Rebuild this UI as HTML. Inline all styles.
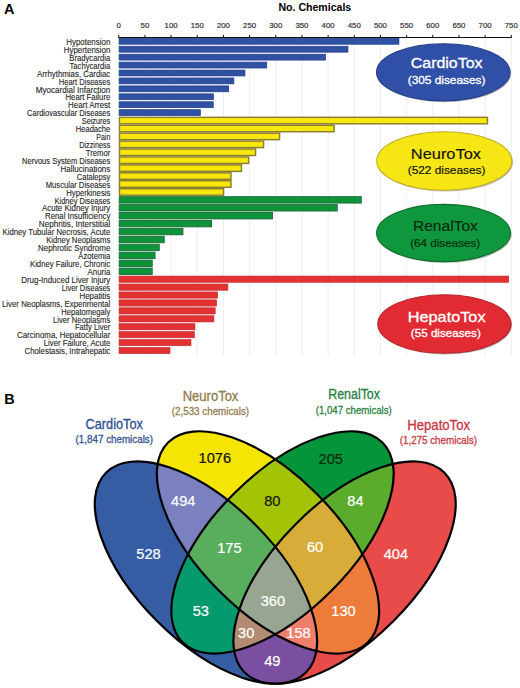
<!DOCTYPE html>
<html><head><meta charset="utf-8"><title>Figure</title>
<style>html,body{margin:0;padding:0;background:#fff;width:520px;height:688px;overflow:hidden;position:relative;font-family:"Liberation Sans", sans-serif;}</style>
</head><body>
<svg width="520" height="688" viewBox="0 0 520 688" style="position:absolute;left:0;top:0">
<text x="4" y="13.8" font-family='"Liberation Sans", sans-serif' font-weight="bold" font-size="14.4" fill="#000">A</text>
<text x="4.3" y="403.8" font-family='"Liberation Sans", sans-serif' font-weight="bold" font-size="14.4" fill="#000">B</text>
<text x="278.5" y="10.8" font-family='"Liberation Sans", sans-serif' font-weight="bold" font-size="11" fill="#000" textLength="72.7" lengthAdjust="spacingAndGlyphs">No. Chemicals</text>
<line x1="144.92" y1="37.45" x2="144.92" y2="356" stroke="#ececec" stroke-width="0.9"/>
<line x1="171.09" y1="37.45" x2="171.09" y2="356" stroke="#ececec" stroke-width="0.9"/>
<line x1="197.26" y1="37.45" x2="197.26" y2="356" stroke="#ececec" stroke-width="0.9"/>
<line x1="223.43" y1="37.45" x2="223.43" y2="356" stroke="#ececec" stroke-width="0.9"/>
<line x1="249.60" y1="37.45" x2="249.60" y2="356" stroke="#ececec" stroke-width="0.9"/>
<line x1="275.77" y1="37.45" x2="275.77" y2="356" stroke="#ececec" stroke-width="0.9"/>
<line x1="301.94" y1="37.45" x2="301.94" y2="356" stroke="#ececec" stroke-width="0.9"/>
<line x1="328.11" y1="37.45" x2="328.11" y2="356" stroke="#ececec" stroke-width="0.9"/>
<line x1="354.28" y1="37.45" x2="354.28" y2="356" stroke="#ececec" stroke-width="0.9"/>
<line x1="380.45" y1="37.45" x2="380.45" y2="356" stroke="#ececec" stroke-width="0.9"/>
<line x1="406.62" y1="37.45" x2="406.62" y2="356" stroke="#ececec" stroke-width="0.9"/>
<line x1="432.79" y1="37.45" x2="432.79" y2="356" stroke="#ececec" stroke-width="0.9"/>
<line x1="458.96" y1="37.45" x2="458.96" y2="356" stroke="#ececec" stroke-width="0.9"/>
<line x1="485.13" y1="37.45" x2="485.13" y2="356" stroke="#ececec" stroke-width="0.9"/>
<line x1="511.30" y1="37.45" x2="511.30" y2="356" stroke="#ececec" stroke-width="0.9"/>
<line x1="118.75" y1="34.85" x2="118.75" y2="37.45" stroke="#111" stroke-width="1"/>
<text x="118.75" y="28.1" text-anchor="middle" font-family='"Liberation Sans", sans-serif' font-size="7.8" fill="#333" stroke="#333" stroke-width="0.2">0</text>
<line x1="144.92" y1="34.85" x2="144.92" y2="37.45" stroke="#111" stroke-width="1"/>
<text x="144.92" y="28.1" text-anchor="middle" font-family='"Liberation Sans", sans-serif' font-size="7.8" fill="#333" stroke="#333" stroke-width="0.2">50</text>
<line x1="171.09" y1="34.85" x2="171.09" y2="37.45" stroke="#111" stroke-width="1"/>
<text x="171.09" y="28.1" text-anchor="middle" font-family='"Liberation Sans", sans-serif' font-size="7.8" fill="#333" stroke="#333" stroke-width="0.2">100</text>
<line x1="197.26" y1="34.85" x2="197.26" y2="37.45" stroke="#111" stroke-width="1"/>
<text x="197.26" y="28.1" text-anchor="middle" font-family='"Liberation Sans", sans-serif' font-size="7.8" fill="#333" stroke="#333" stroke-width="0.2">150</text>
<line x1="223.43" y1="34.85" x2="223.43" y2="37.45" stroke="#111" stroke-width="1"/>
<text x="223.43" y="28.1" text-anchor="middle" font-family='"Liberation Sans", sans-serif' font-size="7.8" fill="#333" stroke="#333" stroke-width="0.2">200</text>
<line x1="249.60" y1="34.85" x2="249.60" y2="37.45" stroke="#111" stroke-width="1"/>
<text x="249.60" y="28.1" text-anchor="middle" font-family='"Liberation Sans", sans-serif' font-size="7.8" fill="#333" stroke="#333" stroke-width="0.2">250</text>
<line x1="275.77" y1="34.85" x2="275.77" y2="37.45" stroke="#111" stroke-width="1"/>
<text x="275.77" y="28.1" text-anchor="middle" font-family='"Liberation Sans", sans-serif' font-size="7.8" fill="#333" stroke="#333" stroke-width="0.2">300</text>
<line x1="301.94" y1="34.85" x2="301.94" y2="37.45" stroke="#111" stroke-width="1"/>
<text x="301.94" y="28.1" text-anchor="middle" font-family='"Liberation Sans", sans-serif' font-size="7.8" fill="#333" stroke="#333" stroke-width="0.2">350</text>
<line x1="328.11" y1="34.85" x2="328.11" y2="37.45" stroke="#111" stroke-width="1"/>
<text x="328.11" y="28.1" text-anchor="middle" font-family='"Liberation Sans", sans-serif' font-size="7.8" fill="#333" stroke="#333" stroke-width="0.2">400</text>
<line x1="354.28" y1="34.85" x2="354.28" y2="37.45" stroke="#111" stroke-width="1"/>
<text x="354.28" y="28.1" text-anchor="middle" font-family='"Liberation Sans", sans-serif' font-size="7.8" fill="#333" stroke="#333" stroke-width="0.2">450</text>
<line x1="380.45" y1="34.85" x2="380.45" y2="37.45" stroke="#111" stroke-width="1"/>
<text x="380.45" y="28.1" text-anchor="middle" font-family='"Liberation Sans", sans-serif' font-size="7.8" fill="#333" stroke="#333" stroke-width="0.2">500</text>
<line x1="406.62" y1="34.85" x2="406.62" y2="37.45" stroke="#111" stroke-width="1"/>
<text x="406.62" y="28.1" text-anchor="middle" font-family='"Liberation Sans", sans-serif' font-size="7.8" fill="#333" stroke="#333" stroke-width="0.2">550</text>
<line x1="432.79" y1="34.85" x2="432.79" y2="37.45" stroke="#111" stroke-width="1"/>
<text x="432.79" y="28.1" text-anchor="middle" font-family='"Liberation Sans", sans-serif' font-size="7.8" fill="#333" stroke="#333" stroke-width="0.2">600</text>
<line x1="458.96" y1="34.85" x2="458.96" y2="37.45" stroke="#111" stroke-width="1"/>
<text x="458.96" y="28.1" text-anchor="middle" font-family='"Liberation Sans", sans-serif' font-size="7.8" fill="#333" stroke="#333" stroke-width="0.2">650</text>
<line x1="485.13" y1="34.85" x2="485.13" y2="37.45" stroke="#111" stroke-width="1"/>
<text x="485.13" y="28.1" text-anchor="middle" font-family='"Liberation Sans", sans-serif' font-size="7.8" fill="#333" stroke="#333" stroke-width="0.2">700</text>
<line x1="511.30" y1="34.85" x2="511.30" y2="37.45" stroke="#111" stroke-width="1"/>
<text x="511.30" y="28.1" text-anchor="middle" font-family='"Liberation Sans", sans-serif' font-size="7.8" fill="#333" stroke="#333" stroke-width="0.2">750</text>
<rect x="119.10" y="38.33" width="279.85" height="5.90" fill="#2f52a2" stroke="#233a8c" stroke-width="0.7"/>
<text x="66.25" y="44.95" font-family='"Liberation Sans", sans-serif' font-size="8.7" fill="#262626" stroke="#262626" stroke-width="0.12" textLength="44.05" lengthAdjust="spacingAndGlyphs">Hypotension</text>
<rect x="119.10" y="46.26" width="228.85" height="5.90" fill="#2f52a2" stroke="#233a8c" stroke-width="0.7"/>
<text x="63.75" y="52.88" font-family='"Liberation Sans", sans-serif' font-size="8.7" fill="#262626" stroke="#262626" stroke-width="0.12" textLength="46.55" lengthAdjust="spacingAndGlyphs">Hypertension</text>
<rect x="119.10" y="54.19" width="206.45" height="5.90" fill="#2f52a2" stroke="#233a8c" stroke-width="0.7"/>
<text x="69.25" y="60.81" font-family='"Liberation Sans", sans-serif' font-size="8.7" fill="#262626" stroke="#262626" stroke-width="0.12" textLength="41.05" lengthAdjust="spacingAndGlyphs">Bradycardia</text>
<rect x="119.10" y="62.12" width="147.65" height="5.90" fill="#2f52a2" stroke="#233a8c" stroke-width="0.7"/>
<text x="69.50" y="68.74" font-family='"Liberation Sans", sans-serif' font-size="8.7" fill="#262626" stroke="#262626" stroke-width="0.12" textLength="40.80" lengthAdjust="spacingAndGlyphs">Tachycardia</text>
<rect x="119.10" y="70.04" width="125.85" height="5.90" fill="#2f52a2" stroke="#233a8c" stroke-width="0.7"/>
<text x="37.00" y="76.67" font-family='"Liberation Sans", sans-serif' font-size="8.7" fill="#262626" stroke="#262626" stroke-width="0.12" textLength="73.30" lengthAdjust="spacingAndGlyphs">Arrhythmias, Cardiac</text>
<rect x="119.10" y="77.97" width="114.75" height="5.90" fill="#2f52a2" stroke="#233a8c" stroke-width="0.7"/>
<text x="58.75" y="84.60" font-family='"Liberation Sans", sans-serif' font-size="8.7" fill="#262626" stroke="#262626" stroke-width="0.12" textLength="51.55" lengthAdjust="spacingAndGlyphs">Heart Diseases</text>
<rect x="119.10" y="85.90" width="109.55" height="5.90" fill="#2f52a2" stroke="#233a8c" stroke-width="0.7"/>
<text x="35.75" y="92.53" font-family='"Liberation Sans", sans-serif' font-size="8.7" fill="#262626" stroke="#262626" stroke-width="0.12" textLength="74.55" lengthAdjust="spacingAndGlyphs">Myocardial Infarction</text>
<rect x="119.10" y="93.83" width="94.45" height="5.90" fill="#2f52a2" stroke="#233a8c" stroke-width="0.7"/>
<text x="65.50" y="100.46" font-family='"Liberation Sans", sans-serif' font-size="8.7" fill="#262626" stroke="#262626" stroke-width="0.12" textLength="44.80" lengthAdjust="spacingAndGlyphs">Heart Failure</text>
<rect x="119.10" y="101.76" width="94.15" height="5.90" fill="#2f52a2" stroke="#233a8c" stroke-width="0.7"/>
<text x="68.00" y="108.39" font-family='"Liberation Sans", sans-serif' font-size="8.7" fill="#262626" stroke="#262626" stroke-width="0.12" textLength="42.30" lengthAdjust="spacingAndGlyphs">Heart Arrest</text>
<rect x="119.10" y="109.69" width="81.25" height="5.90" fill="#2f52a2" stroke="#233a8c" stroke-width="0.7"/>
<text x="27.00" y="116.32" font-family='"Liberation Sans", sans-serif' font-size="8.7" fill="#262626" stroke="#262626" stroke-width="0.12" textLength="83.30" lengthAdjust="spacingAndGlyphs">Cardiovascular Diseases</text>
<rect x="119.47" y="117.33" width="368.00" height="6.48" fill="#f7e80c" stroke="#8a7e30" stroke-width="1.45"/>
<text x="81.75" y="124.25" font-family='"Liberation Sans", sans-serif' font-size="8.7" fill="#262626" stroke="#262626" stroke-width="0.12" textLength="28.55" lengthAdjust="spacingAndGlyphs">Seizures</text>
<rect x="119.47" y="125.26" width="214.60" height="6.48" fill="#f7e80c" stroke="#8a7e30" stroke-width="1.45"/>
<text x="75.75" y="132.18" font-family='"Liberation Sans", sans-serif' font-size="8.7" fill="#262626" stroke="#262626" stroke-width="0.12" textLength="34.55" lengthAdjust="spacingAndGlyphs">Headache</text>
<rect x="119.47" y="133.19" width="160.10" height="6.48" fill="#f7e80c" stroke="#8a7e30" stroke-width="1.45"/>
<text x="96.25" y="140.11" font-family='"Liberation Sans", sans-serif' font-size="8.7" fill="#262626" stroke="#262626" stroke-width="0.12" textLength="14.05" lengthAdjust="spacingAndGlyphs">Pain</text>
<rect x="119.47" y="141.12" width="144.10" height="6.48" fill="#f7e80c" stroke="#8a7e30" stroke-width="1.45"/>
<text x="79.25" y="148.04" font-family='"Liberation Sans", sans-serif' font-size="8.7" fill="#262626" stroke="#262626" stroke-width="0.12" textLength="31.05" lengthAdjust="spacingAndGlyphs">Dizziness</text>
<rect x="119.47" y="149.05" width="136.10" height="6.48" fill="#f7e80c" stroke="#8a7e30" stroke-width="1.45"/>
<text x="85.75" y="155.97" font-family='"Liberation Sans", sans-serif' font-size="8.7" fill="#262626" stroke="#262626" stroke-width="0.12" textLength="24.55" lengthAdjust="spacingAndGlyphs">Tremor</text>
<rect x="119.47" y="156.98" width="129.10" height="6.48" fill="#f7e80c" stroke="#8a7e30" stroke-width="1.45"/>
<text x="22.00" y="163.90" font-family='"Liberation Sans", sans-serif' font-size="8.7" fill="#262626" stroke="#262626" stroke-width="0.12" textLength="88.30" lengthAdjust="spacingAndGlyphs">Nervous System Diseases</text>
<rect x="119.47" y="164.91" width="122.00" height="6.48" fill="#f7e80c" stroke="#8a7e30" stroke-width="1.45"/>
<text x="60.50" y="171.83" font-family='"Liberation Sans", sans-serif' font-size="8.7" fill="#262626" stroke="#262626" stroke-width="0.12" textLength="49.80" lengthAdjust="spacingAndGlyphs">Hallucinations</text>
<rect x="119.47" y="172.84" width="111.50" height="6.48" fill="#f7e80c" stroke="#8a7e30" stroke-width="1.45"/>
<text x="76.75" y="179.76" font-family='"Liberation Sans", sans-serif' font-size="8.7" fill="#262626" stroke="#262626" stroke-width="0.12" textLength="33.55" lengthAdjust="spacingAndGlyphs">Catalepsy</text>
<rect x="119.47" y="180.78" width="111.50" height="6.48" fill="#f7e80c" stroke="#8a7e30" stroke-width="1.45"/>
<text x="45.75" y="187.69" font-family='"Liberation Sans", sans-serif' font-size="8.7" fill="#262626" stroke="#262626" stroke-width="0.12" textLength="64.55" lengthAdjust="spacingAndGlyphs">Muscular Diseases</text>
<rect x="119.47" y="188.70" width="104.10" height="6.48" fill="#f7e80c" stroke="#8a7e30" stroke-width="1.45"/>
<text x="66.25" y="195.62" font-family='"Liberation Sans", sans-serif' font-size="8.7" fill="#262626" stroke="#262626" stroke-width="0.12" textLength="44.05" lengthAdjust="spacingAndGlyphs">Hyperkinesis</text>
<rect x="119.20" y="196.67" width="242.05" height="6.40" fill="#0e9438" stroke="#1a6a38" stroke-width="0.9"/>
<text x="54.50" y="203.55" font-family='"Liberation Sans", sans-serif' font-size="8.7" fill="#262626" stroke="#262626" stroke-width="0.12" textLength="55.80" lengthAdjust="spacingAndGlyphs">Kidney Diseases</text>
<rect x="119.20" y="204.60" width="218.05" height="6.40" fill="#0e9438" stroke="#1a6a38" stroke-width="0.9"/>
<text x="42.00" y="211.48" font-family='"Liberation Sans", sans-serif' font-size="8.7" fill="#262626" stroke="#262626" stroke-width="0.12" textLength="68.30" lengthAdjust="spacingAndGlyphs">Acute Kidney Injury</text>
<rect x="119.20" y="212.53" width="153.35" height="6.40" fill="#0e9438" stroke="#1a6a38" stroke-width="0.9"/>
<text x="45.00" y="219.41" font-family='"Liberation Sans", sans-serif' font-size="8.7" fill="#262626" stroke="#262626" stroke-width="0.12" textLength="65.30" lengthAdjust="spacingAndGlyphs">Renal Insufficiency</text>
<rect x="119.20" y="220.46" width="92.35" height="6.40" fill="#0e9438" stroke="#1a6a38" stroke-width="0.9"/>
<text x="38.75" y="227.34" font-family='"Liberation Sans", sans-serif' font-size="8.7" fill="#262626" stroke="#262626" stroke-width="0.12" textLength="71.55" lengthAdjust="spacingAndGlyphs">Nephritis, Interstitial</text>
<rect x="119.20" y="228.39" width="63.75" height="6.40" fill="#0e9438" stroke="#1a6a38" stroke-width="0.9"/>
<text x="2.50" y="235.27" font-family='"Liberation Sans", sans-serif' font-size="8.7" fill="#262626" stroke="#262626" stroke-width="0.12" textLength="107.80" lengthAdjust="spacingAndGlyphs">Kidney Tubular Necrosis, Acute</text>
<rect x="119.20" y="236.32" width="45.05" height="6.40" fill="#0e9438" stroke="#1a6a38" stroke-width="0.9"/>
<text x="46.25" y="243.20" font-family='"Liberation Sans", sans-serif' font-size="8.7" fill="#262626" stroke="#262626" stroke-width="0.12" textLength="64.05" lengthAdjust="spacingAndGlyphs">Kidney Neoplasms</text>
<rect x="119.20" y="244.25" width="40.05" height="6.40" fill="#0e9438" stroke="#1a6a38" stroke-width="0.9"/>
<text x="38.00" y="251.13" font-family='"Liberation Sans", sans-serif' font-size="8.7" fill="#262626" stroke="#262626" stroke-width="0.12" textLength="72.30" lengthAdjust="spacingAndGlyphs">Nephrotic Syndrome</text>
<rect x="119.20" y="252.18" width="35.85" height="6.40" fill="#0e9438" stroke="#1a6a38" stroke-width="0.9"/>
<text x="78.25" y="259.06" font-family='"Liberation Sans", sans-serif' font-size="8.7" fill="#262626" stroke="#262626" stroke-width="0.12" textLength="32.05" lengthAdjust="spacingAndGlyphs">Azotemia</text>
<rect x="119.20" y="260.11" width="33.05" height="6.40" fill="#0e9438" stroke="#1a6a38" stroke-width="0.9"/>
<text x="30.00" y="266.99" font-family='"Liberation Sans", sans-serif' font-size="8.7" fill="#262626" stroke="#262626" stroke-width="0.12" textLength="80.30" lengthAdjust="spacingAndGlyphs">Kidney Failure, Chronic</text>
<rect x="119.20" y="268.05" width="33.05" height="6.40" fill="#0e9438" stroke="#1a6a38" stroke-width="0.9"/>
<text x="87.50" y="274.92" font-family='"Liberation Sans", sans-serif' font-size="8.7" fill="#262626" stroke="#262626" stroke-width="0.12" textLength="22.80" lengthAdjust="spacingAndGlyphs">Anuria</text>
<rect x="119.05" y="276.05" width="389.65" height="6.25" fill="#e23232" stroke="#c42a36" stroke-width="0.6"/>
<text x="21.25" y="282.85" font-family='"Liberation Sans", sans-serif' font-size="8.7" fill="#262626" stroke="#262626" stroke-width="0.12" textLength="89.05" lengthAdjust="spacingAndGlyphs">Drug-Induced Liver Injury</text>
<rect x="119.05" y="283.98" width="108.85" height="6.25" fill="#e23232" stroke="#c42a36" stroke-width="0.6"/>
<text x="61.75" y="290.78" font-family='"Liberation Sans", sans-serif' font-size="8.7" fill="#262626" stroke="#262626" stroke-width="0.12" textLength="48.55" lengthAdjust="spacingAndGlyphs">Liver Diseases</text>
<rect x="119.05" y="291.91" width="98.55" height="6.25" fill="#e23232" stroke="#c42a36" stroke-width="0.6"/>
<text x="79.50" y="298.71" font-family='"Liberation Sans", sans-serif' font-size="8.7" fill="#262626" stroke="#262626" stroke-width="0.12" textLength="30.80" lengthAdjust="spacingAndGlyphs">Hepatitis</text>
<rect x="119.05" y="299.84" width="97.55" height="6.25" fill="#e23232" stroke="#c42a36" stroke-width="0.6"/>
<text x="2.00" y="306.64" font-family='"Liberation Sans", sans-serif' font-size="8.7" fill="#262626" stroke="#262626" stroke-width="0.12" textLength="108.30" lengthAdjust="spacingAndGlyphs">Liver Neoplasms, Experimental</text>
<rect x="119.05" y="307.77" width="96.15" height="6.25" fill="#e23232" stroke="#c42a36" stroke-width="0.6"/>
<text x="61.25" y="314.57" font-family='"Liberation Sans", sans-serif' font-size="8.7" fill="#262626" stroke="#262626" stroke-width="0.12" textLength="49.05" lengthAdjust="spacingAndGlyphs">Hepatomegaly</text>
<rect x="119.05" y="315.70" width="94.85" height="6.25" fill="#e23232" stroke="#c42a36" stroke-width="0.6"/>
<text x="53.00" y="322.50" font-family='"Liberation Sans", sans-serif' font-size="8.7" fill="#262626" stroke="#262626" stroke-width="0.12" textLength="57.30" lengthAdjust="spacingAndGlyphs">Liver Neoplasms</text>
<rect x="119.05" y="323.63" width="75.95" height="6.25" fill="#e23232" stroke="#c42a36" stroke-width="0.6"/>
<text x="75.00" y="330.43" font-family='"Liberation Sans", sans-serif' font-size="8.7" fill="#262626" stroke="#262626" stroke-width="0.12" textLength="35.30" lengthAdjust="spacingAndGlyphs">Fatty Liver</text>
<rect x="119.05" y="331.56" width="75.45" height="6.25" fill="#e23232" stroke="#c42a36" stroke-width="0.6"/>
<text x="17.00" y="338.36" font-family='"Liberation Sans", sans-serif' font-size="8.7" fill="#262626" stroke="#262626" stroke-width="0.12" textLength="93.30" lengthAdjust="spacingAndGlyphs">Carcinoma, Hepatocellular</text>
<rect x="119.05" y="339.49" width="71.95" height="6.25" fill="#e23232" stroke="#c42a36" stroke-width="0.6"/>
<text x="43.75" y="346.29" font-family='"Liberation Sans", sans-serif' font-size="8.7" fill="#262626" stroke="#262626" stroke-width="0.12" textLength="66.55" lengthAdjust="spacingAndGlyphs">Liver Failure, Acute</text>
<rect x="119.05" y="347.42" width="50.95" height="6.25" fill="#e23232" stroke="#c42a36" stroke-width="0.6"/>
<text x="24.50" y="354.22" font-family='"Liberation Sans", sans-serif' font-size="8.7" fill="#262626" stroke="#262626" stroke-width="0.12" textLength="85.80" lengthAdjust="spacingAndGlyphs">Cholestasis, Intrahepatic</text>
<line x1="118.25" y1="37.45" x2="511.80" y2="37.45" stroke="#101018" stroke-width="1.1"/>
<ellipse cx="444.40000000000003" cy="73.6" rx="66.8" ry="28.6" fill="#a8a8a8" opacity="0.75" filter="url(#blur1)"/>
<ellipse cx="443.3" cy="72.3" rx="66.8" ry="28.6" fill="#2f50a6" stroke="#233c8a" stroke-width="1.1"/>
<text x="410.8" y="68.3" font-family='"Liberation Sans", sans-serif' font-size="15.2" fill="#ffffff" stroke="#ffffff" stroke-width="0.32" textLength="71.7" lengthAdjust="spacingAndGlyphs">CardioTox</text>
<text x="407.7" y="84.0" font-family='"Liberation Sans", sans-serif' font-size="11.6" fill="#ffffff" stroke="#ffffff" stroke-width="0.32" textLength="77.7" lengthAdjust="spacingAndGlyphs">(305 diseases)</text>
<ellipse cx="445.40000000000003" cy="162.3" rx="67.6" ry="29.2" fill="#a8a8a8" opacity="0.75" filter="url(#blur1)"/>
<ellipse cx="444.3" cy="161.0" rx="67.6" ry="29.2" fill="#f6e616" stroke="#c2ad1c" stroke-width="1.1"/>
<text x="410.8" y="158.5" font-family='"Liberation Sans", sans-serif' font-size="15.2" fill="#111111" stroke="#111111" stroke-width="0.14" textLength="70.2" lengthAdjust="spacingAndGlyphs">NeuroTox</text>
<text x="407.7" y="173.8" font-family='"Liberation Sans", sans-serif' font-size="11.6" fill="#111111" stroke="#111111" stroke-width="0.18" textLength="77.7" lengthAdjust="spacingAndGlyphs">(522 diseases)</text>
<ellipse cx="444.70000000000005" cy="234.3" rx="67.0" ry="28.6" fill="#a8a8a8" opacity="0.75" filter="url(#blur1)"/>
<ellipse cx="443.6" cy="233.0" rx="67.0" ry="28.6" fill="#0e973c" stroke="#0f6e2a" stroke-width="1.1"/>
<text x="412.9" y="231.3" font-family='"Liberation Sans", sans-serif' font-size="15.2" fill="#0b2a12" stroke="#0b2a12" stroke-width="0.14" textLength="65.0" lengthAdjust="spacingAndGlyphs">RenalTox</text>
<text x="410.2" y="246.6" font-family='"Liberation Sans", sans-serif' font-size="11.6" fill="#0b2a12" stroke="#0b2a12" stroke-width="0.18" textLength="70.0" lengthAdjust="spacingAndGlyphs">(64 diseases)</text>
<ellipse cx="445.5" cy="325.3" rx="66.6" ry="29.2" fill="#a8a8a8" opacity="0.75" filter="url(#blur1)"/>
<ellipse cx="444.4" cy="324.0" rx="66.6" ry="29.2" fill="#e12a32" stroke="#b8242c" stroke-width="1.1"/>
<text x="407.7" y="321.5" font-family='"Liberation Sans", sans-serif' font-size="15.2" fill="#ffffff" stroke="#ffffff" stroke-width="0.32" textLength="77.9" lengthAdjust="spacingAndGlyphs">HepatoTox</text>
<text x="410.8" y="337.0" font-family='"Liberation Sans", sans-serif' font-size="11.6" fill="#ffffff" stroke="#ffffff" stroke-width="0.32" textLength="70.0" lengthAdjust="spacingAndGlyphs">(55 diseases)</text>
<defs><filter id="blur1" x="-10%" y="-10%" width="120%" height="120%"><feGaussianBlur stdDeviation="0.7"/></filter>
<clipPath id="cC"><ellipse cx="0" cy="0" rx="141.33" ry="68.85" transform="translate(205.95 572.6) rotate(45)" /></clipPath>
<clipPath id="cN"><ellipse cx="0" cy="0" rx="141.33" ry="68.85" transform="translate(268.0 542.4) rotate(45)" /></clipPath>
<clipPath id="cR"><ellipse cx="0" cy="0" rx="141.33" ry="68.85" transform="translate(282.5 542.4) rotate(-45)" /></clipPath>
<clipPath id="cH"><ellipse cx="0" cy="0" rx="141.33" ry="68.85" transform="translate(344.55 572.6) rotate(-45)" /></clipPath>
</defs>
<g clip-path="url(#cC)"><rect x="80" y="420" width="400" height="268" fill="#365da4"/></g>
<g clip-path="url(#cN)"><rect x="80" y="420" width="400" height="268" fill="#f5e504"/></g>
<g clip-path="url(#cR)"><rect x="80" y="420" width="400" height="268" fill="#04943a"/></g>
<g clip-path="url(#cH)"><rect x="80" y="420" width="400" height="268" fill="#e84b49"/></g>
<g clip-path="url(#cC)"><g clip-path="url(#cN)"><rect x="80" y="420" width="400" height="268" fill="#7a80c0"/></g></g>
<g clip-path="url(#cC)"><g clip-path="url(#cR)"><rect x="80" y="420" width="400" height="268" fill="#049a6e"/></g></g>
<g clip-path="url(#cC)"><g clip-path="url(#cH)"><rect x="80" y="420" width="400" height="268" fill="#7a4ea0"/></g></g>
<g clip-path="url(#cN)"><g clip-path="url(#cR)"><rect x="80" y="420" width="400" height="268" fill="#a3c404"/></g></g>
<g clip-path="url(#cN)"><g clip-path="url(#cH)"><rect x="80" y="420" width="400" height="268" fill="#ed7b3a"/></g></g>
<g clip-path="url(#cR)"><g clip-path="url(#cH)"><rect x="80" y="420" width="400" height="268" fill="#5bab2c"/></g></g>
<g clip-path="url(#cC)"><g clip-path="url(#cN)"><g clip-path="url(#cR)"><rect x="80" y="420" width="400" height="268" fill="#58ae5c"/></g></g></g>
<g clip-path="url(#cC)"><g clip-path="url(#cN)"><g clip-path="url(#cH)"><rect x="80" y="420" width="400" height="268" fill="#ef7f6c"/></g></g></g>
<g clip-path="url(#cC)"><g clip-path="url(#cR)"><g clip-path="url(#cH)"><rect x="80" y="420" width="400" height="268" fill="#b28b73"/></g></g></g>
<g clip-path="url(#cN)"><g clip-path="url(#cR)"><g clip-path="url(#cH)"><rect x="80" y="420" width="400" height="268" fill="#d8ac38"/></g></g></g>
<g clip-path="url(#cC)"><g clip-path="url(#cN)"><g clip-path="url(#cR)"><g clip-path="url(#cH)"><rect x="80" y="420" width="400" height="268" fill="#98a590"/></g></g></g></g>
<ellipse cx="0" cy="0" rx="141.33" ry="68.85" transform="translate(205.95 572.6) rotate(45)" fill="none" stroke="#000" stroke-width="2.2"/>
<ellipse cx="0" cy="0" rx="141.33" ry="68.85" transform="translate(268.0 542.4) rotate(45)" fill="none" stroke="#000" stroke-width="2.2"/>
<ellipse cx="0" cy="0" rx="141.33" ry="68.85" transform="translate(282.5 542.4) rotate(-45)" fill="none" stroke="#000" stroke-width="2.2"/>
<ellipse cx="0" cy="0" rx="141.33" ry="68.85" transform="translate(344.55 572.6) rotate(-45)" fill="none" stroke="#000" stroke-width="2.2"/>
<text x="148.5" y="559.0" text-anchor="middle" font-family='"Liberation Sans", sans-serif' font-size="14.6" fill="#fff" stroke="#fff" stroke-width="0.2">528</text>
<text x="214.8" y="463.3" text-anchor="middle" font-family='"Liberation Sans", sans-serif' font-size="14.6" fill="#111" stroke="#111" stroke-width="0.2">1076</text>
<text x="330.8" y="463.8" text-anchor="middle" font-family='"Liberation Sans", sans-serif' font-size="14.6" fill="#0a2a10" stroke="#0a2a10" stroke-width="0.2">205</text>
<text x="395.9" y="559.0" text-anchor="middle" font-family='"Liberation Sans", sans-serif' font-size="14.6" fill="#fff" stroke="#fff" stroke-width="0.2">404</text>
<text x="183.3" y="506.1" text-anchor="middle" font-family='"Liberation Sans", sans-serif' font-size="14.6" fill="#fff" stroke="#fff" stroke-width="0.2">494</text>
<text x="272.3" y="506.1" text-anchor="middle" font-family='"Liberation Sans", sans-serif' font-size="14.6" fill="#111" stroke="#111" stroke-width="0.2">80</text>
<text x="355.4" y="506.1" text-anchor="middle" font-family='"Liberation Sans", sans-serif' font-size="14.6" fill="#fff" stroke="#fff" stroke-width="0.2">84</text>
<text x="229.4" y="553.0" text-anchor="middle" font-family='"Liberation Sans", sans-serif' font-size="14.6" fill="#fff" stroke="#fff" stroke-width="0.2">175</text>
<text x="315" y="552.2" text-anchor="middle" font-family='"Liberation Sans", sans-serif' font-size="14.6" fill="#fff" stroke="#fff" stroke-width="0.2">60</text>
<text x="272.9" y="605.5" text-anchor="middle" font-family='"Liberation Sans", sans-serif' font-size="14.6" fill="#fff" stroke="#fff" stroke-width="0.2">360</text>
<text x="200.8" y="615.7" text-anchor="middle" font-family='"Liberation Sans", sans-serif' font-size="14.6" fill="#fff" stroke="#fff" stroke-width="0.2">53</text>
<text x="343.5" y="615.7" text-anchor="middle" font-family='"Liberation Sans", sans-serif' font-size="14.6" fill="#fff" stroke="#fff" stroke-width="0.2">130</text>
<text x="246.2" y="638.2" text-anchor="middle" font-family='"Liberation Sans", sans-serif' font-size="14.6" fill="#fff" stroke="#fff" stroke-width="0.2">30</text>
<text x="298.5" y="638.2" text-anchor="middle" font-family='"Liberation Sans", sans-serif' font-size="14.6" fill="#fff" stroke="#fff" stroke-width="0.2">158</text>
<text x="272.3" y="666.1" text-anchor="middle" font-family='"Liberation Sans", sans-serif' font-size="14.6" fill="#fff" stroke="#fff" stroke-width="0.2">49</text>
<text x="85.6" y="429.2" font-family='"Liberation Sans", sans-serif' font-size="13.8" fill="#30508f" stroke="#30508f" stroke-width="0.3" textLength="57.3" lengthAdjust="spacingAndGlyphs">CardioTox</text>
<text x="75.6" y="442.6" font-family='"Liberation Sans", sans-serif' font-size="10.6" fill="#30508f" stroke="#30508f" stroke-width="0.28" textLength="77.4" lengthAdjust="spacingAndGlyphs">(1,847 chemicals)</text>
<text x="182.7" y="400.7" font-family='"Liberation Sans", sans-serif' font-size="13.8" fill="#8f7c4c" stroke="#8f7c4c" stroke-width="0.3" textLength="55.7" lengthAdjust="spacingAndGlyphs">NeuroTox</text>
<text x="171.8" y="414.6" font-family='"Liberation Sans", sans-serif' font-size="10.6" fill="#8f7c4c" stroke="#8f7c4c" stroke-width="0.28" textLength="77.3" lengthAdjust="spacingAndGlyphs">(2,533 chemicals)</text>
<text x="328.2" y="399.3" font-family='"Liberation Sans", sans-serif' font-size="13.8" fill="#287f3e" stroke="#287f3e" stroke-width="0.3" textLength="51.8" lengthAdjust="spacingAndGlyphs">RenalTox</text>
<text x="315.7" y="413.6" font-family='"Liberation Sans", sans-serif' font-size="10.6" fill="#287f3e" stroke="#287f3e" stroke-width="0.28" textLength="76.1" lengthAdjust="spacingAndGlyphs">(1,047 chemicals)</text>
<text x="407.3" y="430.3" font-family='"Liberation Sans", sans-serif' font-size="13.8" fill="#c8363f" stroke="#c8363f" stroke-width="0.3" textLength="62.7" lengthAdjust="spacingAndGlyphs">HepatoTox</text>
<text x="399.7" y="444.4" font-family='"Liberation Sans", sans-serif' font-size="10.6" fill="#c8363f" stroke="#c8363f" stroke-width="0.28" textLength="77.4" lengthAdjust="spacingAndGlyphs">(1,275 chemicals)</text>
</svg>
</body></html>
